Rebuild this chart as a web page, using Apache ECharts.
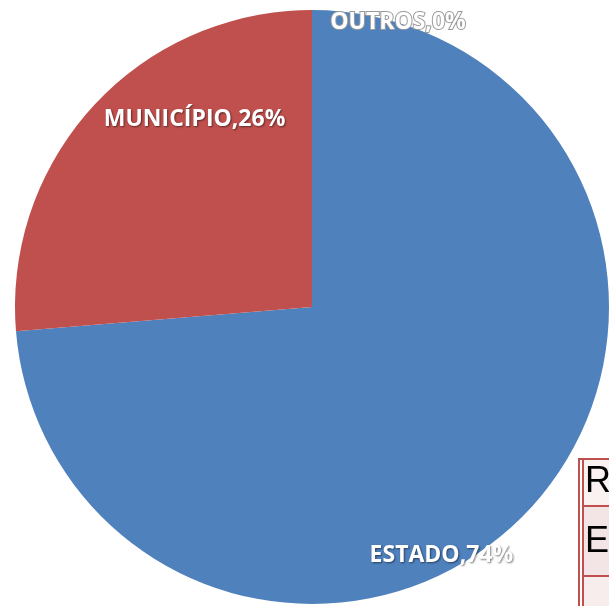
<!DOCTYPE html>
<html>
<head>
<meta charset="utf-8">
<script src="https://cdn.jsdelivr.net/npm/echarts@6/dist/echarts.min.js"></script>
<style>
html,body{margin:0;padding:0;background:#fff;}
#chart{width:609px;height:606px;}
</style>
</head>
<body>
<div id="chart"></div>
<script>
// Data
var categories = ['ESTADO', 'MUNICÍPIO', 'OUTROS'];
var shares = [73.7, 26.3, 0];
var tableLetters = ['R', 'E', ''];

var colors = ['#4F81BD', '#C0504D', '#9BBB59'];
var labelOffsets = [[18, 146], [-6, -85], [86, -133]];

var chart = echarts.init(document.getElementById('chart'), null, {renderer: 'canvas'});

var pieData = categories.map(function (c, i) {
  var isOutros = i === 2;
  return {
    name: c,
    value: shares[i],
    itemStyle: {color: colors[i]},
    label: {
      offset: labelOffsets[i],
      color: '#ffffff',
      textBorderColor: isOutros ? '#9a9a9a' : 'transparent',
      textBorderWidth: isOutros ? 2 : 0,
      textShadowColor: isOutros ? 'transparent' : 'rgba(0,0,0,0.5)',
      textShadowBlur: isOutros ? 0 : 2,
      textShadowOffsetX: 1,
      textShadowOffsetY: 1
    }
  };
});

var rowTops = [459, 506, 576];
var rowHeights = [47, 70, 40];
var rowFills = ['#FAF1F1', '#F3E5E5', '#F7EDED'];
var textYs = [482, 542, 590];
var graphics = [];
tableLetters.forEach(function (t, i) {
  graphics.push({
    type: 'rect',
    shape: {x: 583, y: rowTops[i], width: 40, height: rowHeights[i]},
    style: {fill: rowFills[i], stroke: '#C0504D', lineWidth: 2},
    z: 10
  });
  graphics.push({
    type: 'text',
    x: 585,
    y: textYs[i],
    style: {text: t, fill: '#000', font: '36px "Liberation Sans", Arial, sans-serif', textVerticalAlign: 'middle'},
    z: 11
  });
});
graphics.push({
  type: 'line',
  shape: {x1: 579, y1: 458, x2: 579, y2: 606},
  style: {stroke: '#C0504D', lineWidth: 2},
  z: 12
});
graphics.push({
  type: 'line',
  shape: {x1: 579, y1: 459, x2: 609, y2: 459},
  style: {stroke: '#C0504D', lineWidth: 2},
  z: 12
});

chart.setOption({
  backgroundColor: '#ffffff',
  animation: false,
  series: [{
    type: 'pie',
    center: [312, 307],
    radius: [0, 297],
    startAngle: 90,
    clockwise: true,
    minAngle: 0,
    percentPrecision: 0,
    avoidLabelOverlap: false,
    stillShowZeroSum: true,
    itemStyle: {borderWidth: 0},
    label: {
      show: true,
      position: 'inside',
      formatter: '{b},{d}%',
      fontFamily: '"Open Sans", sans-serif',
      fontWeight: 'bold',
      fontSize: 23
    },
    labelLine: {show: false},
    emphasis: {disabled: true},
    data: pieData
  }],
  graphic: graphics
});
</script>
</body>
</html>
